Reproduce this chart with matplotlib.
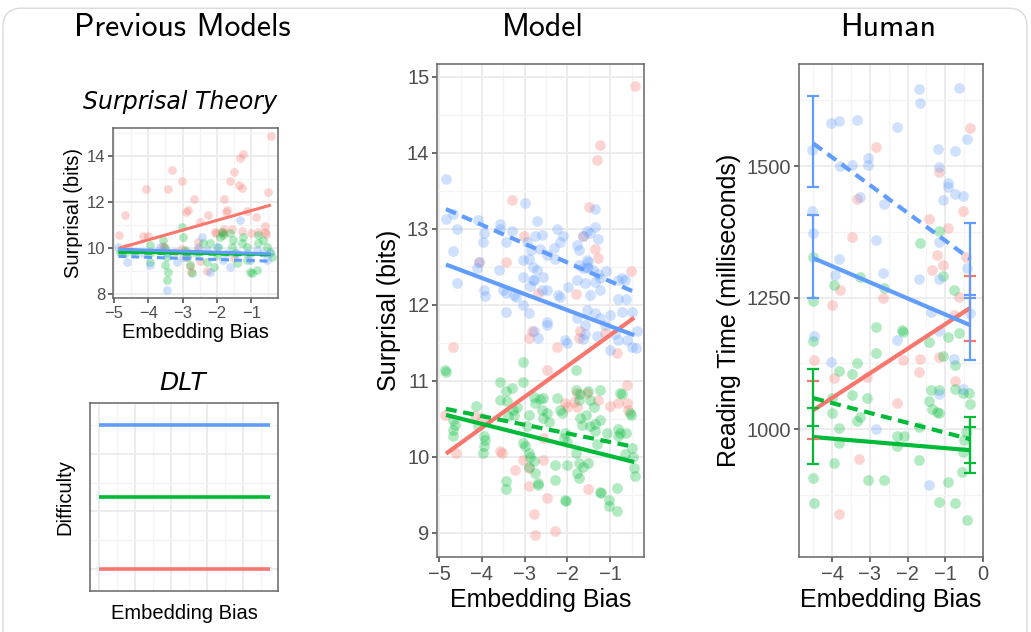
import matplotlib
matplotlib.use("Agg")
import matplotlib.pyplot as plt
from matplotlib.patches import FancyBboxPatch
from matplotlib.ticker import FixedLocator

plt.rcParams["font.family"] = ["Liberation Sans", "DejaVu Sans"]

RED = "#F8766D"
GREEN = "#00BA38"
BLUE = "#619CFF"

# ---------------- Model panel data ----------------
model_red_x = [-0.42, -1.24, -1.32, -3.30, -1.49, -3.01, -1.63, -4.07, -3.43, -1.36, -1.28, -2.68,
               -1.80, -0.52, -2.83, -2.91, -1.71, -1.74, -1.12, -0.85, -2.25, -4.68, -2.48, -0.61,
               -4.86, -4.60, -4.16, -4.00, -3.57, -3.53, -3.22, -3.03, -2.89, -2.56, -2.89, -2.48,
               -2.79, -2.75, -2.29, -1.51, -2.06, -1.85, -1.78, -1.55, -1.28, -1.00, -0.81, -0.61,
               -0.58, -2.02, -1.78, -2.56]
model_red_y = [14.88, 14.11, 13.90, 13.38, 13.29, 12.90, 12.90, 12.57, 12.56, 12.74, 12.62, 12.15,
               12.14, 12.44, 11.65, 11.56, 11.65, 11.56, 11.63, 11.36, 11.45, 11.44, 11.14, 10.95,
               10.55, 10.05, 10.53, 10.51, 10.07, 10.05, 9.83, 9.96, 9.85, 9.96, 9.61, 9.46,
               9.24, 8.97, 9.02, 9.57, 10.71, 10.72, 10.84, 10.84, 10.75, 10.67, 10.71, 10.71,
               10.62, 10.66, 10.66, 10.25]

model_blue_x = [-4.84, -4.84, -4.68, -4.59, -4.68, -4.59, -4.10, -3.94, -3.98, -4.07, -3.96, -3.93,
                -4.12, -3.57, -3.57, -3.59, -3.43, -3.30, -3.50, -3.26, -3.43, -3.20, -3.43, -2.99,
                -3.03, -2.95, -2.85, -2.90, -2.80, -3.03, -2.72, -2.75, -2.60, -2.64, -2.81, -2.87,
                -2.48, -2.25, -2.32, -2.10, -2.17, -2.29, -2.48, -2.17, -1.99, -1.78, -1.74, -1.63,
                -1.74, -1.63, -1.78, -1.36, -1.36, -1.47, -1.28, -1.52, -1.54, -1.40, -1.36, -1.28,
                -1.25, -1.47, -1.10, -0.81, -0.65, -0.81, -0.63, -2.79, -2.72, -2.56, -2.60, -3.04,
                -2.89, -2.48, -2.48, -2.79, -2.68, -2.21, -1.55, -1.55, -1.51, -1.59, -1.24, -0.73,
                -1.78, -1.55, -1.36, -1.59, -1.24, -1.00, -1.12, -0.73, -0.50, -1.59, -1.63, -1.32,
                -0.89, -0.81, -0.61, -0.50, -0.40, -1.00, -0.38, -2.06, -2.02]
model_blue_y = [13.66, 13.13, 13.20, 13.00, 12.71, 12.29, 13.12, 12.94, 12.83, 12.57, 12.20, 12.12,
                12.48, 13.07, 13.00, 12.46, 12.83, 12.97, 12.20, 12.13, 12.16, 12.10, 11.91, 13.34,
                12.59, 12.83, 12.72, 12.60, 12.50, 12.37, 13.10, 12.90, 12.92, 12.73, 12.32, 12.25,
                12.66, 13.00, 12.75, 12.90, 12.83, 12.60, 12.20, 12.10, 12.24, 12.79, 12.72, 12.90,
                12.53, 12.49, 12.32, 13.26, 13.03, 12.94, 12.87, 12.57, 12.50, 12.46, 12.30, 12.41,
                12.20, 12.13, 12.44, 12.32, 12.33, 12.07, 12.07, 12.33, 12.46, 12.37, 12.20, 12.00,
                11.89, 11.78, 11.74, 11.65, 11.56, 12.13, 12.97, 12.59, 12.48, 12.29, 12.35, 12.35,
                11.82, 11.93, 11.89, 11.74, 11.82, 11.87, 11.74, 11.91, 11.90, 11.61, 11.55, 11.59,
                11.61, 11.54, 11.54, 11.45, 11.43, 11.41, 11.65, 11.54, 11.50]

model_green_x = [-4.86, -4.84, -3.04, -1.80, -3.57, -3.30, -3.43, -3.04, -1.51, -1.24, -0.77, -4.67,
                 -4.63, -4.68, -4.67, -4.14, -4.08, -3.96, -3.93, -3.96, -3.98, -3.57, -3.42, -3.28,
                 -3.25, -3.38, -3.19, -3.43, -3.43, -2.91, -2.95, -3.03, -2.99, -2.91, -2.87, -2.89,
                 -2.79, -2.76, -2.70, -2.68, -2.79, -2.64, -2.57, -2.75, -2.60, -2.48, -2.58, -2.44,
                 -2.29, -2.29, -2.25, -2.17, -2.13, -2.06, -2.09, -2.01, -2.01, -2.06, -2.04, -1.80,
                 -1.71, -1.74, -1.71, -1.67, -1.57, -1.80, -1.74, -1.63, -1.51, -1.78, -1.74, -1.47,
                 -1.39, -1.47, -1.36, -1.24, -1.36, -1.32, -1.24, -1.22, -1.08, -1.04, -1.02, -0.85,
                 -0.85, -0.81, -0.77, -0.81, -0.63, -0.73, -0.54, -0.52, -0.50, -0.47, -0.65, -0.44,
                 -0.42]
model_green_y = [11.14, 11.11, 11.25, 11.14, 10.99, 10.91, 10.87, 10.99, 10.86, 10.88, 10.84, 10.49,
                 10.42, 10.35, 10.27, 10.67, 10.41, 10.27, 10.22, 10.14, 10.05, 10.75, 10.73, 10.62,
                 10.55, 10.53, 10.66, 9.68, 9.58, 10.55, 10.40, 10.18, 10.14, 10.05, 10.00, 9.87,
                 9.94, 9.78, 9.65, 9.63, 10.79, 10.76, 10.77, 10.71, 10.62, 10.57, 10.51, 10.46,
                 9.89, 9.70, 10.77, 10.62, 10.57, 10.31, 10.25, 10.20, 9.89, 9.43, 9.42, 10.88,
                 10.82, 10.75, 10.51, 10.42, 10.55, 10.05, 9.92, 9.87, 9.92, 9.79, 9.72, 10.75,
                 10.66, 10.41, 10.43, 10.48, 10.34, 10.17, 9.53, 9.52, 10.31, 9.43, 9.35, 9.28,
                 9.59, 10.36, 10.31, 10.27, 10.31, 10.82, 10.58, 10.55, 10.11, 10.00, 10.04, 9.85,
                 9.74]

model_fit_x = [-4.84, -0.44]
model_red_fit = [10.04, 11.83]
model_blue_fit = [12.53, 11.60]
model_blue_dash_fit = [13.26, 12.17]
model_green_fit = [10.55, 9.93]
model_green_dash_fit = [10.63, 10.13]

# ---------------- Surprisal Theory panel data ----------------
st_green_x = [-4.83, -4.68, -3.95, -3.95, -3.95, -3.56, -3.51, -3.46, -3.51, -3.42, -3.46, -3.03,
              -2.98, -2.93, -2.88, -2.78, -2.73, -2.59, -2.40, -2.30, -2.20, -2.10, -2.01, -1.96,
              -1.91, -1.86, -1.81, -1.62, -1.57, -1.52, -1.47, -1.42, -1.28, -1.23, -1.13, -1.13,
              -1.03, -0.99, -0.84, -0.79, -0.79, -0.65, -0.55, -0.45, -0.40]
st_green_y = [9.84, 9.77, 10.13, 9.77, 9.41, 10.35, 9.99, 9.62, 9.26, 8.97, 8.61, 10.93,
              10.49, 9.91, 9.62, 9.26, 8.90, 9.77, 10.20, 9.41, 10.20, 9.19, 9.70, 10.06,
              10.49, 10.71, 10.57, 10.64, 10.06, 10.35, 9.77, 9.33, 10.20, 10.49, 10.06, 9.48,
              8.97, 8.90, 9.04, 10.57, 10.20, 10.35, 10.06, 9.84, 9.62]
st_blue_x = [-4.87, -4.63, -4.44, -3.95, -3.66, -3.46, -3.46, -2.98, -2.78, -2.54, -2.30, -2.01,
             -1.81, -1.62, -1.42, -1.33, -1.03, -0.84, -0.55, -0.45, -1.71, -1.13, -0.65, -3.17,
             -4.15, -2.20, -2.45]
st_blue_y = [10.06, 9.41, 9.84, 9.26, 10.06, 9.77, 8.17, 9.62, 9.77, 10.06, 9.91, 10.06,
             9.48, 9.19, 9.77, 11.22, 9.48, 9.91, 9.48, 9.77, 9.77, 9.77, 9.77, 9.41,
             9.77, 8.97, 10.49]
st_fit_x = [-4.87, -0.43]
st_red_fit = [9.99, 11.87]
st_blue_fit = [9.95, 9.75]
st_blue_dash_fit = [9.64, 9.43]
st_green_fit = [9.83, 9.72]
st_green_dash_fit = [9.80, 9.70]

# ---------------- DLT panel data ----------------
dlt_x = [-5.0, -0.25]
dlt_red = 1.0
dlt_green = 2.0
dlt_blue = 3.0

# ---------------- Human panel data ----------------
human_blue_x = [-1.70, -1.67, -0.63, -4.03, -3.81, -3.33, -2.27, -4.53, -3.80, -3.47, -3.05, -3.05,
                -3.25, -2.63, -1.19, -0.75, -0.43, -1.17, -0.94, -0.94, -0.74, -0.54, -1.05, -4.53,
                -4.50, -3.92, -3.81, -2.85, -2.65, -1.70, -1.17, -1.17, -0.43, -1.39, -0.34, -1.17,
                -2.27, -4.47, -4.03, -0.76, -0.54, -2.85, -1.43, -1.17]
human_blue_y = [1646, 1619, 1648, 1582, 1586, 1587, 1574, 1530, 1500, 1502, 1515, 1502,
                1442, 1428, 1532, 1529, 1551, 1499, 1468, 1461, 1447, 1443, 1435, 1415,
                1373, 1293, 1323, 1359, 1296, 1285, 1356, 1285, 1306, 1223, 1220, 1186,
                1169, 1177, 1128, 1134, 1076, 1001, 894, 1067]
human_red_x = [-2.85, -0.35, -1.17, -3.34, -0.54, -1.43, -0.94, -4.01, -3.79, -3.47, -2.65, -1.34,
               -1.21, -1.05, -0.63, -0.45, -0.76, -4.47, -3.96, -3.07, -2.13, -1.68, -1.70, -1.17,
               -0.74, -2.27, -3.28, -3.83]
human_red_y = [1536, 1573, 1489, 1437, 1414, 1400, 1382, 1236, 1264, 1366, 1250, 1302,
               1331, 1312, 1252, 1328, 1217, 1131, 1098, 1099, 1131, 1133, 1108, 1137,
               1091, 1049, 944, 838]
human_green_x = [-1.17, -4.51, -4.51, -3.96, -3.25, -2.63, -1.67, -1.05, -0.76, -2.85, -2.14, -0.94,
                 -0.63, -1.43, -2.12, -2.83, -4.50, -3.34, -3.83, -3.47, -1.05, -0.74, -0.74, -1.39,
                 -1.17, -0.36, -3.47, -3.08, -4.01, -4.01, -3.34, -3.25, -3.83, -3.83, -3.96, -4.50,
                 -4.47, -3.05, -2.63, -2.27, -2.09, -2.27, -1.69, -1.69, -1.43, -1.34, -1.21, -1.17,
                 -0.54, -0.35, -0.45, -0.50, -0.54, -0.56, -0.94, -1.17, -0.74, -0.43]
human_green_y = [1377, 1328, 1244, 1274, 1290, 1268, 1354, 1291, 1264, 1195, 1188, 1175,
                 1182, 1165, 1184, 1144, 1167, 1125, 1110, 1104, 1139, 1122, 1077, 1074,
                 1074, 1068, 1065, 1060, 1060, 1030, 1016, 1023, 1002, 974, 936, 908,
                 859, 904, 903, 987, 987, 968, 1004, 942, 1054, 1039, 1033, 1031,
                 1069, 1048, 995, 979, 957, 919, 900, 862, 859, 827]

human_fit_x = [-4.50, -0.35]
human_red_fit = [1036, 1230]
human_red_lo = [981, 1167]
human_red_hi = [1091, 1291]
human_blue_fit = [1325, 1198]
human_blue_lo = [1249, 1131]
human_blue_hi = [1407, 1250]
human_blue_dash_fit = [1543, 1324]
human_blue_dash_lo = [1460, 1255]
human_blue_dash_hi = [1633, 1392]
human_green_fit = [985, 960]
human_green_lo = [933, 916]
human_green_hi = [1040, 1004]
human_green_dash_fit = [1059, 981]
human_green_dash_lo = [1006, 935]
human_green_dash_hi = [1114, 1023]

# ---------------- figure ----------------
W, H = 1031, 632
fig = plt.figure(figsize=(W / 100, H / 100), dpi=100)
fig.patch.set_facecolor("white")

border = FancyBboxPatch((3 / W, -0.05), 1024 / W, 1.037, boxstyle="round,pad=0,rounding_size=0.018",
                        transform=fig.transFigure, facecolor="none", edgecolor="#DADADA",
                        linewidth=1.0, mutation_aspect=W / H)
fig.patches.append(border)

TICK_C = "#4D4D4D"
SPINE_C = "#666666"
DASH = (0, (2.6, 1.6))


def px_axes(l, t, r, b):
    return fig.add_axes([l / W, 1 - b / H, (r - l) / W, (b - t) / H])


def style(ax, tick_fs, xmaj, xmin, ymaj, ymin):
    ax.set_facecolor("white")
    for s in ax.spines.values():
        s.set_color(SPINE_C)
        s.set_linewidth(1.1)
    ax.xaxis.set_major_locator(FixedLocator(xmaj))
    ax.xaxis.set_minor_locator(FixedLocator(xmin))
    ax.yaxis.set_major_locator(FixedLocator(ymaj))
    ax.yaxis.set_minor_locator(FixedLocator(ymin))
    ax.grid(which="major", color="#EBEBEB", linewidth=1.3, zorder=0)
    ax.grid(which="minor", color="#F4F4F4", linewidth=0.9, zorder=0)
    ax.set_axisbelow(True)
    ax.tick_params(which="major", direction="out", length=3.5, width=1.1, color="#444444",
                   labelsize=tick_fs, labelcolor=TICK_C, pad=2)
    ax.tick_params(which="minor", length=0)


def scatter(ax, x, y, c, s):
    ax.scatter(x, y, s=s, color=c, alpha=0.3, linewidths=0, zorder=2)


# ---- Surprisal Theory ----
ax1 = px_axes(113, 128, 278, 298)
ax1.set_xlim(-5.03, -0.22)
ax1.set_ylim(7.83, 15.22)
style(ax1, 12, [-5, -4, -3, -2, -1], [-4.5, -3.5, -2.5, -1.5, -0.5],
      [8, 10, 12, 14], [9, 11, 13, 15])
scatter(ax1, model_red_x, model_red_y, RED, 40)
scatter(ax1, st_green_x, st_green_y, GREEN, 40)
scatter(ax1, st_blue_x, st_blue_y, BLUE, 40)
ax1.plot(st_fit_x, st_red_fit, color=RED, lw=2.2, zorder=3, solid_capstyle="butt")
ax1.plot(st_fit_x, st_blue_dash_fit, color=BLUE, lw=2.2, ls=DASH, zorder=3)
ax1.plot(st_fit_x, st_green_dash_fit, color=GREEN, lw=2.2, ls=DASH, zorder=3)
ax1.plot(st_fit_x, st_green_fit, color=GREEN, lw=2.2, zorder=3, solid_capstyle="butt")
ax1.plot(st_fit_x, st_blue_fit, color=BLUE, lw=2.2, zorder=3, solid_capstyle="butt")
ax1.set_xlabel("Embedding Bias", fontsize=14.5, labelpad=2)
ax1.set_ylabel("Surprisal (bits)", fontsize=14.5, labelpad=3)

# ---- DLT ----
ax2 = px_axes(90, 403, 278, 591)
ax2.set_xlim(-5.25, -0.03)
ax2.set_ylim(0.69, 3.31)
style(ax2, 11, [-5, -4, -3, -2, -1], [-4.5, -3.5, -2.5, -1.5, -0.5, 0],
      [1.0, 1.8, 2.6], [1.4, 2.2, 3.0])
ax2.tick_params(which="major", length=0, labelleft=False, labelbottom=False)
ax2.plot(dlt_x, [dlt_blue, dlt_blue], color=BLUE, lw=2.6, solid_capstyle="butt", zorder=3)
ax2.plot(dlt_x, [dlt_green, dlt_green], color=GREEN, lw=2.6, solid_capstyle="butt", zorder=3)
ax2.plot(dlt_x, [dlt_red, dlt_red], color=RED, lw=2.6, solid_capstyle="butt", zorder=3)
ax2.set_xlabel("Embedding Bias", fontsize=14.5, labelpad=6)
ax2.set_ylabel("Difficulty", fontsize=14.5, labelpad=8)

# ---- Model ----
ax3 = px_axes(437, 64, 644, 557)
ax3.set_xlim(-5.05, -0.21)
ax3.set_ylim(8.68, 15.17)
style(ax3, 14.5, [-5, -4, -3, -2, -1], [-4.5, -3.5, -2.5, -1.5, -0.5],
      [9, 10, 11, 12, 13, 14, 15], [9.5, 10.5, 11.5, 12.5, 13.5, 14.5])
scatter(ax3, model_red_x, model_red_y, RED, 60)
scatter(ax3, model_green_x, model_green_y, GREEN, 60)
scatter(ax3, model_blue_x, model_blue_y, BLUE, 60)
ax3.plot(model_fit_x, model_red_fit, color=RED, lw=3.0, zorder=3, solid_capstyle="butt")
ax3.plot(model_fit_x, model_green_dash_fit, color=GREEN, lw=3.0, ls=DASH, zorder=3)
ax3.plot(model_fit_x, model_green_fit, color=GREEN, lw=3.0, zorder=3, solid_capstyle="butt")
ax3.plot(model_fit_x, model_blue_dash_fit, color=BLUE, lw=3.0, ls=DASH, zorder=3)
ax3.plot(model_fit_x, model_blue_fit, color=BLUE, lw=3.0, zorder=3, solid_capstyle="butt")
ax3.set_xlabel("Embedding Bias", fontsize=18, labelpad=3)
ax3.set_ylabel("Surprisal (bits)", fontsize=18, labelpad=4)

# ---- Human ----
ax4 = px_axes(799, 64, 983, 557)
ax4.set_xlim(-4.88, 0.0)
ax4.set_ylim(757, 1694)
style(ax4, 14.5, [-4, -3, -2, -1, 0], [-4.5, -3.5, -2.5, -1.5, -0.5],
      [1000, 1250, 1500], [875, 1125, 1375, 1625])
scatter(ax4, human_red_x, human_red_y, RED, 60)
scatter(ax4, human_green_x, human_green_y, GREEN, 60)
scatter(ax4, human_blue_x, human_blue_y, BLUE, 60)


def fit_err(ax, y, lo, hi, c, ls):
    ax.plot(human_fit_x, y, color=c, lw=3.0, ls=ls, zorder=3,
            solid_capstyle="butt")
    yerr = [[a - b for a, b in zip(y, lo)], [b - a for a, b in zip(y, hi)]]
    ax.errorbar(human_fit_x, y, yerr=yerr, fmt="none", ecolor=c, elinewidth=1.6,
                capsize=4.5, capthick=1.6, zorder=4)


fit_err(ax4, human_red_fit, human_red_lo, human_red_hi, RED, "-")
fit_err(ax4, human_green_dash_fit, human_green_dash_lo, human_green_dash_hi, GREEN, DASH)
fit_err(ax4, human_green_fit, human_green_lo, human_green_hi, GREEN, "-")
fit_err(ax4, human_blue_dash_fit, human_blue_dash_lo, human_blue_dash_hi, BLUE, DASH)
fit_err(ax4, human_blue_fit, human_blue_lo, human_blue_hi, BLUE, "-")
ax4.set_xlabel("Embedding Bias", fontsize=18, labelpad=3)
ax4.set_ylabel("Reading Time (milliseconds)", fontsize=18, labelpad=4)

# ---- titles ----
fig.text(182 / W, 1 - 28 / H, "Previous Models", ha="center", va="center",
         family="cmss10", fontsize=23)
fig.text(543 / W, 1 - 28 / H, "Model", ha="center", va="center",
         family="cmss10", fontsize=23)
fig.text(888 / W, 1 - 28 / H, "Human", ha="center", va="center",
         family="cmss10", fontsize=23)
fig.text(180 / W, 1 - 102 / H, "Surprisal Theory", ha="center", va="center",
         family="DejaVu Sans", style="italic", fontsize=17)
fig.text(183 / W, 1 - 383 / H, "DLT", ha="center", va="center",
         family="DejaVu Sans", style="italic", fontsize=18)

fig.savefig("out.png", dpi=100)
